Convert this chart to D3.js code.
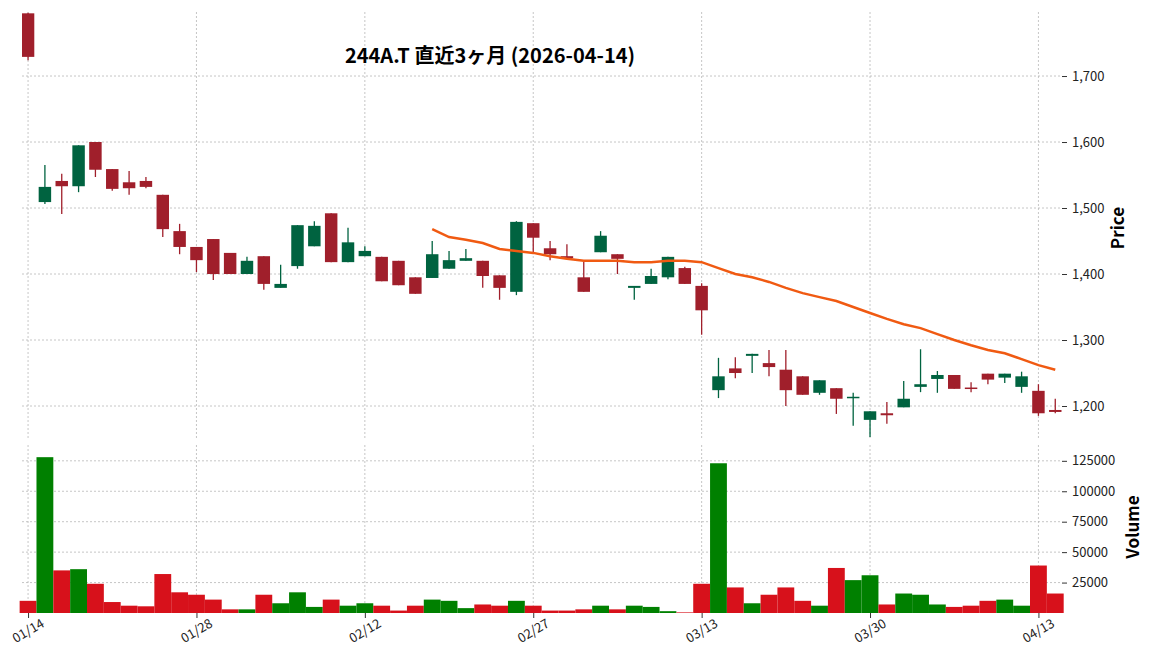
<!DOCTYPE html>
<html>
<head>
<meta charset="utf-8">
<script src="https://cdn.jsdelivr.net/npm/d3@7"></script>
<style>
  body { margin: 0; background: #fff; }
  text { font-family: "Noto Sans CJK JP", "Noto Sans", sans-serif; }
</style>
</head>
<body>
<svg id="chart" width="1152" height="670"></svg>
<script>
// trading days
const dates = ["01/14","01/15","01/16","01/19","01/20","01/21","01/22","01/23","01/26","01/27",
  "01/28","01/29","01/30","02/02","02/03","02/04","02/05","02/06","02/09","02/10",
  "02/12","02/13","02/16","02/17","02/18","02/19","02/20","02/24","02/25","02/26",
  "02/27","03/02","03/03","03/04","03/05","03/06","03/09","03/10","03/11","03/12",
  "03/13","03/16","03/17","03/18","03/19","03/23","03/24","03/25","03/26","03/27",
  "03/30","03/31","04/01","04/02","04/03","04/06","04/07","04/08","04/09","04/10",
  "04/13","04/14"];
const opens  = [1795,1509,1541,1533,1600,1559,1539,1541,1520,1465,1441,1453,1432,1400,1427,1379,1412,1442,1492,1418,
  1427,1426,1420,1395,1394,1408,1420,1420,1398,1373,1477,1439,1427,1395,1433,1430,1379,1385,1395,1409,
  1382,1224,1257,1276,1265,1255,1245,1220,1227,1212,1179,1189,1198,1229,1241,1247,1228,1249,1243,1229,
  1223,1194];
const highs  = [1796,1565,1552,1595,1600,1559,1556,1547,1520,1476,1441,1453,1432,1426,1427,1414,1474,1480,1492,1470,
  1442,1426,1420,1395,1450,1435,1438,1420,1398,1480,1477,1450,1445,1421,1465,1430,1382,1408,1426,1411,
  1386,1273,1274,1279,1285,1285,1245,1239,1227,1220,1192,1206,1238,1286,1253,1247,1236,1249,1249,1252,
  1233,1211];
const lows   = [1724,1506,1491,1524,1547,1526,1520,1530,1456,1430,1403,1391,1400,1400,1376,1379,1408,1442,1418,1418,
  1427,1389,1383,1370,1394,1408,1420,1379,1361,1368,1433,1421,1424,1373,1433,1400,1361,1385,1392,1385,
  1308,1212,1242,1250,1245,1200,1217,1217,1188,1170,1153,1173,1198,1221,1220,1226,1221,1233,1235,1220,
  1185,1189];
const closes = [1729,1532,1533,1595,1558,1529,1530,1532,1468,1441,1421,1400,1400,1420,1385,1385,1474,1473,1418,1448,
  1435,1389,1383,1370,1430,1421,1424,1397,1379,1479,1455,1430,1424,1373,1458,1423,1382,1397,1426,1385,
  1345,1245,1250,1279,1259,1224,1217,1239,1211,1214,1192,1186,1211,1233,1247,1226,1226,1240,1249,1245,
  1189,1191];
const volumes = [10,128,35,36,24,9,6,5.5,32,17,15,11,3,3,15,8,17,5,11,6,
  8,6,2,6,11,10,4,7,6,10,6,2,2,3,6,3,6,5,1.5,0.5,
  24,123,21,8,15,21,10,6,37,27,31,7,16,15,7,5,6,10,11,6,
  39,16].map(v => v * 1000);
// moving average line, starts at index 24
const maStart = 24;
const maValues = [1468,1456,1452,1447,1438,1435,1432,1427,1423,1420,1420,1420,1418,1418,1420,1420,
  1418,1409,1400,1395,1388,1379,1371,1365,1359,1350,1341,1332,1324,1318,1309,1300,1292,1285,1280,1271,
  1262,1255];
const priceTicks = [1200,1300,1400,1500,1600,1700];
const volTicks = [25000,50000,75000,100000,125000];
const dateTickIdx = [0,10,20,30,40,50,60];

const svg = d3.select("#chart");
const left = 22, right = 1062;
const n = dates.length;

const x = d3.scaleLinear().domain([-0.36, n - 0.6]).range([left, right]);
const step = x(1) - x(0);
const y = d3.scaleLinear().domain([1148.5, 1797]).range([440, 12]);
const yv = d3.scaleLinear().domain([0, 138000]).range([613, 445]);

const upC = "#006340", downC = "#a01f2b";
const vUp = "#008000", vDown = "#d7111b";
const grid = "#b8b8b8";

// clip for price panel
svg.append("clipPath").attr("id", "pclip").append("rect")
  .attr("x", left).attr("y", 12).attr("width", right - left).attr("height", 428);

// grids
const gGrid = svg.append("g").attr("stroke", grid).attr("stroke-dasharray", "2,2").attr("stroke-width", 0.8);
dateTickIdx.forEach(i => {
  gGrid.append("line").attr("x1", x(i)).attr("x2", x(i)).attr("y1", 12).attr("y2", 440);
  gGrid.append("line").attr("x1", x(i)).attr("x2", x(i)).attr("y1", 445).attr("y2", 613);
});
priceTicks.forEach(t => gGrid.append("line").attr("x1", left).attr("x2", right).attr("y1", y(t)).attr("y2", y(t)));
volTicks.forEach(t => gGrid.append("line").attr("x1", left).attr("x2", right).attr("y1", yv(t)).attr("y2", yv(t)));

// candles
const gC = svg.append("g").attr("clip-path", "url(#pclip)");
const idx = d3.range(n);
const cw = step * 0.74;
gC.selectAll(".wick").data(idx).enter().append("line")
  .attr("x1", i => x(i)).attr("x2", i => x(i))
  .attr("y1", i => y(highs[i])).attr("y2", i => y(lows[i]))
  .attr("stroke", i => closes[i] >= opens[i] ? upC : downC).attr("stroke-width", 1.3);
gC.selectAll(".body").data(idx).enter().append("rect")
  .attr("x", i => x(i) - cw / 2).attr("width", cw)
  .attr("y", i => y(Math.max(opens[i], closes[i])))
  .attr("height", i => Math.max(1.5, Math.abs(y(opens[i]) - y(closes[i]))))
  .attr("fill", i => closes[i] >= opens[i] ? upC : downC);

// moving average
const line = d3.line().x((d, k) => x(maStart + k)).y(d => y(d));
svg.append("path").datum(maValues).attr("d", line)
  .attr("fill", "none").attr("stroke", "#f05a12").attr("stroke-width", 2.5);

// volume bars
svg.selectAll(".vol").data(idx).enter().append("rect")
  .attr("x", i => x(i) - step / 2).attr("width", step)
  .attr("y", i => yv(volumes[i])).attr("height", i => 613 - yv(volumes[i]))
  .attr("fill", i => closes[i] >= opens[i] ? vUp : vDown);

// right axes
const pAxis = svg.append("g").attr("transform", `translate(${right},0)`)
  .call(d3.axisRight(y).tickValues(priceTicks).tickSize(5).tickPadding(5));
const vAxis = svg.append("g").attr("transform", `translate(${right},0)`)
  .call(d3.axisRight(yv).tickValues(volTicks).tickSize(5).tickPadding(5).tickFormat(d3.format("d")));
[pAxis, vAxis].forEach(a => {
  a.select(".domain").remove();
  a.selectAll("text").attr("font-size", 13).attr("fill", "#222");
  a.selectAll("line").attr("stroke", "#333");
});

// bottom axis
const xAxis = svg.append("g").attr("transform", "translate(0,613)")
  .call(d3.axisBottom(x).tickValues(dateTickIdx).tickSize(5).tickFormat(i => dates[i]));
xAxis.select(".domain").remove();
xAxis.selectAll("line").attr("stroke", "#333");
xAxis.selectAll("text").attr("font-size", 13).attr("fill", "#222")
  .attr("text-anchor", "end").attr("dx", "0.6em").attr("dy", "0.9em")
  .attr("transform", "rotate(-30)");

// labels
svg.append("text").attr("transform", "translate(1124,228) rotate(-90)")
  .attr("text-anchor", "middle").attr("font-size", 17).attr("font-weight", "bold").text("Price");
svg.append("text").attr("transform", "translate(1139,527) rotate(-90)")
  .attr("text-anchor", "middle").attr("font-size", 17).attr("font-weight", "bold").text("Volume");
svg.append("text").attr("x", 490).attr("y", 63).attr("text-anchor", "middle")
  .attr("font-size", 20).attr("font-weight", "bold").text("244A.T  直近3ヶ月  (2026-04-14)");
</script>
</body>
</html>
